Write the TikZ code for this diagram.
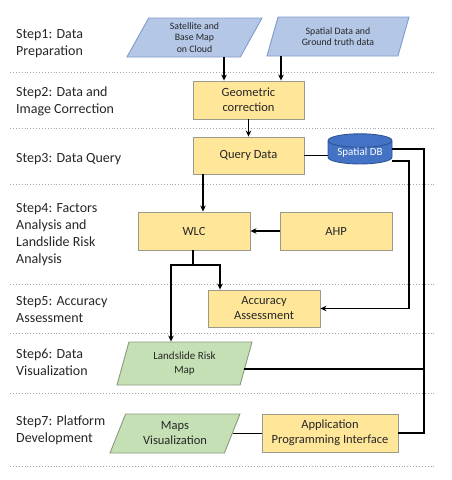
\documentclass[tikz,border=0pt]{standalone}
\usepackage{fontspec}
\setmainfont{Carlito}
\usetikzlibrary{shapes.geometric,arrows.meta,calc}
\definecolor{bluefill}{HTML}{B4C7E7}
\definecolor{blueline}{HTML}{7F9BCB}
\definecolor{yelfill}{HTML}{FFE699}
\definecolor{yelline}{HTML}{9A9A8A}
\definecolor{grnfill}{HTML}{C5E0B4}
\definecolor{grnline}{HTML}{8A9A80}
\definecolor{dbfill}{HTML}{4472C4}
\definecolor{dbline}{HTML}{2F5597}
\definecolor{sepcol}{HTML}{A6A6A6}
\definecolor{txt}{HTML}{262626}
\begin{document}
\begin{tikzpicture}[x=1pt,y=-1pt,
  sepline/.style={draw=sepcol, dotted, line width=0.9pt},
  steplbl/.style={anchor=west, align=left, inner sep=0pt, text=txt, font=\fontsize{14}{17}\selectfont},
  box/.style={draw=yelline, fill=yelfill, line width=0.9pt, align=center, inner sep=0pt, text=txt, font=\fontsize{12.5}{15}\selectfont},
  para/.style={trapezium, trapezium stretches body, line width=0.9pt, align=center, inner sep=0pt, text=txt},
  bpara/.style={para, draw=blueline, fill=bluefill, font=\fontsize{9.8}{11.5}\selectfont},
  gpara/.style={para, draw=grnline, fill=grnfill},
  conn/.style={line width=1.4pt, black},
  arr/.style={conn, -{Stealth[length=6pt,width=5.5pt]}}
]
\useasboundingbox (0,0) rectangle (451,480);

% separators
\foreach \yy in {72,128,184,284,333,393,466}
  \draw[sepline] (10,\yy) -- (435,\yy);

% step labels
\node[steplbl] (s1) at (16,43.5) {Step1: Data\\Preparation};
\node[steplbl] (s2) at (16,101.5) {Step2: Data and\\Image Correction};
\node[steplbl] (s3) at (16,159) {Step3: Data Query};
\node[steplbl] (s4) at (16,234.5) {Step4: Factors\\Analysis and\\Landslide Risk\\Analysis};
\node[steplbl] (s5) at (16,310) {Step5: Accuracy\\Assessment};
\node[steplbl] (s6) at (16,362.5) {Step6: Data\\Visualization};
\node[steplbl] (s7) at (16,430.5) {Step7: Platform\\Development};

% parallelograms
\node[bpara, trapezium left angle=54, trapezium right angle=126, minimum width=135, minimum height=39] (sat) at (194.5,37.5) {Satellite and\\Base Map\\on Cloud};
\node[bpara, trapezium left angle=59, trapezium right angle=121, minimum width=142, minimum height=39] (gt) at (338,36.5) {Spatial Data and\\Ground truth data};
\node[gpara, trapezium left angle=63, trapezium right angle=117, minimum width=135, minimum height=43, font=\fontsize{11}{14}\selectfont] (map) at (184.5,363.5) {Landslide Risk\\Map};
\node[gpara, trapezium left angle=56, trapezium right angle=124, minimum width=130, minimum height=39, font=\fontsize{12.5}{15}\selectfont] (mv) at (175,433.5) {Maps\\Visualization};

% boxes
\node[box, minimum width=111, minimum height=38] (geo) at (248.5,100) {Geometric\\correction};
\node[box, minimum width=111, minimum height=37] (qd) at (248.5,155.5) {Query Data};
\node[box, minimum width=112, minimum height=38] (wlc) at (194,231) {WLC};
\node[box, minimum width=112, minimum height=38] (ahp) at (336,231) {AHP};
\node[box, minimum width=112, minimum height=37] (acc) at (264,308.5) {Accuracy\\Assessment};
\node[box, minimum width=136, minimum height=38] (api) at (330,433) {Application\\Programming Interface};

% database
\node[cylinder, shape border rotate=90, aspect=0.3, draw=dbline, fill=dbfill, line width=0.9pt,
  minimum width=64, minimum height=29, inner sep=0pt, text=white, font=\fontsize{11}{13}\selectfont] (db) at (360,152.5) {Spatial DB};

% helper coordinates
\coordinate (xa) at (224,0);
\coordinate (xb) at (281,0);
\coordinate (xq) at (203,0);
\coordinate (sp) at (193,265);
\coordinate (xl) at (171,0);
\coordinate (xr) at (220,0);
\coordinate (rx) at (424,0);
\coordinate (rx2) at (409,0);
\coordinate (dbA) at ($(db.east)+(0,-3.5)$);
\coordinate (dbB) at ($(db.east)+(0,8.5)$);
\coordinate (mapR) at ($(map.east)+(-2.8,5.5)$);

% connectors
\draw[arr] (sat.south -| xa) -- (geo.north -| xa);
\draw[arr] (gt.south -| xb) -- (geo.north -| xb);
\draw[arr] (geo.south) -- (qd.north);
\draw[conn] (qd.east) -- (qd.east -| db.west);
\draw[arr] (qd.south -| xq) -- (wlc.north -| xq);
\draw[arr] (ahp.west) -- (wlc.east);
\draw[conn] (wlc.south -| sp) -- (sp);
\draw[arr] (sp) -- (sp -| xl) -- (map.north -| xl);
\draw[arr] (sp) -- (sp -| xr) -- (acc.north -| xr);
\draw[arr] (dbB) -- (dbB -| rx2) -- (rx2 |- acc.east) -- (acc.east);
\draw[conn] (dbA) -- (dbA -| rx) -- (rx |- api.east) -- (api.east);
\draw[conn] (mapR) -- (mapR -| rx);
\draw[conn] (mv.east) -- (mv.east -| api.west);
\end{tikzpicture}
\end{document}
